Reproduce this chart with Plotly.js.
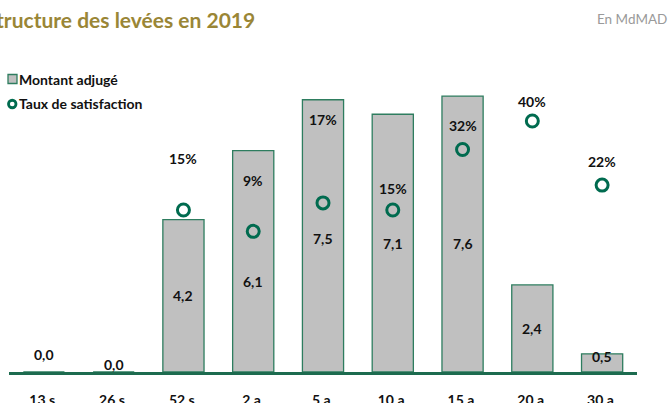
<!DOCTYPE html>
<html><head><meta charset="utf-8">
<script src="https://cdn.plot.ly/plotly-3.0.1.min.js"></script>
<style>html,body{margin:0;padding:0;background:#fff;}#chart{width:668px;height:403px;}</style>
</head><body><div id="chart"></div>
<script>
// Data
const categories = ['13 s.', '26 s.', '52 s.', '2 a.', '5 a.', '10 a.', '15 a.', '20 a.', '30 a.'];
const montant = [0.0, 0.0, 4.2, 6.1, 7.5, 7.1, 7.6, 2.4, 0.5];
const montantLabels = ['0,0', '0,0', '4,2', '6,1', '7,5', '7,1', '7,6', '2,4', '0,5'];
const taux = [null, null, 15, 9, 17, 15, 32, 40, 22];
const tauxLabels = ['', '', '15%', '9%', '17%', '15%', '32%', '40%', '22%'];
const seriesNames = ['Montant adjugé', 'Taux de satisfaction'];
// label offsets (px) relative to default anchor
const montantShift = [18, 8, 0, -20, -3, 0, -9, 0, 6];
const tauxShift = [0, 0, 52, 51, 83, 22, 24, 20, 24];

const font = 'Lato, "Open Sans", sans-serif';
const green = '#006b4f';
const barFill = '#c0c0c0';
const barLine = '#2e7d5f';

const W = 668, H = 403;
const M = {l: 9, r: 31, t: 40, b: 31};
const PW = W - M.l - M.r, PH = H - M.t - M.b;
const px2x = p => (p - M.l) / PW;
const py2y = p => (H - M.b - p) / PH;

const traces = [
  {
    type: 'bar', x: categories, y: montant, name: seriesNames[0],
    width: 0.59,
    marker: {color: barFill, line: {color: barLine, width: 1.3}},
    hoverinfo: 'x+y', showlegend: false
  },
  {
    type: 'scatter', mode: 'markers', x: categories, y: taux, name: seriesNames[1],
    yaxis: 'y2',
    marker: {symbol: 'circle-open', size: 12, color: green, line: {color: green, width: 3}},
    cliponaxis: false, showlegend: false
  }
];

const annotations = [];
categories.forEach((c, i) => {
  annotations.push({
    x: c, y: montant[i] / 2, xref: 'x', yref: 'y', text: '<b>' + montantLabels[i] + '</b>',
    showarrow: false, yshift: montantShift[i],
    font: {family: font, size: 14, color: '#111'}
  });
  if (taux[i] !== null) {
    annotations.push({
      x: c, y: taux[i], xref: 'x', yref: 'y2', text: '<b>' + tauxLabels[i] + '</b>',
      showarrow: false, yshift: tauxShift[i],
      font: {family: font, size: 14, color: '#111'}
    });
  }
});
annotations.push({
  xref: 'paper', yref: 'paper', x: -0.041, y: 1.062, xanchor: 'left', yanchor: 'middle',
  text: '<b>Structure des levées en 2019</b>', showarrow: false,
  font: {family: font, size: 21, color: '#9a8636'}
});
annotations.push({
  xref: 'paper', yref: 'paper', x: 1.051, y: 1.064, xanchor: 'right', yanchor: 'middle',
  text: 'En MdMAD', showarrow: false,
  font: {family: font, size: 13.5, color: '#9a9a9a'}
});
// legend (custom, to match reference spacing)
const legendRows = [79, 104];
seriesNames.forEach((n, i) => {
  annotations.push({
    xref: 'paper', yref: 'paper', x: px2x(17), y: py2y(legendRows[i]), xanchor: 'left', yanchor: 'middle',
    text: '<b>' + n + '</b>', showarrow: false,
    font: {family: font, size: 14, color: '#111'}
  });
});
const shapes = [
  {type: 'rect', xref: 'paper', yref: 'paper',
   x0: px2x(8), x1: px2x(17), y0: py2y(legendRows[0] + 4.5), y1: py2y(legendRows[0] - 4.5),
   fillcolor: barFill, line: {color: barLine, width: 1.3}},
  {type: 'circle', xref: 'paper', yref: 'paper',
   x0: px2x(8.5), x1: px2x(16), y0: py2y(legendRows[1] + 3.75), y1: py2y(legendRows[1] - 3.75),
   fillcolor: 'rgba(0,0,0,0)', line: {color: green, width: 2.8}}
];

const layout = {
  width: W, height: H,
  margin: M,
  paper_bgcolor: '#fff', plot_bgcolor: '#fff',
  showlegend: false,
  xaxis: {
    type: 'category', range: [-0.5, 8.5], showgrid: false, zeroline: false,
    showline: true, linecolor: '#1d6b4f', linewidth: 2.5, ticks: '',
    ticklabelstandoff: 14,
    tickfont: {family: font, size: 14, color: '#111', weight: 'bold'}
  },
  yaxis: {
    range: [0, 9.146], visible: false, showgrid: false, zeroline: false
  },
  yaxis2: {
    range: [-30.5, 62.75], overlaying: 'y', side: 'right', visible: false,
    showgrid: false, zeroline: false
  },
  bargap: 0.41,
  annotations: annotations,
  shapes: shapes
};

Plotly.newPlot('chart', traces, layout, {displayModeBar: false, staticPlot: true});
</script></body></html>
